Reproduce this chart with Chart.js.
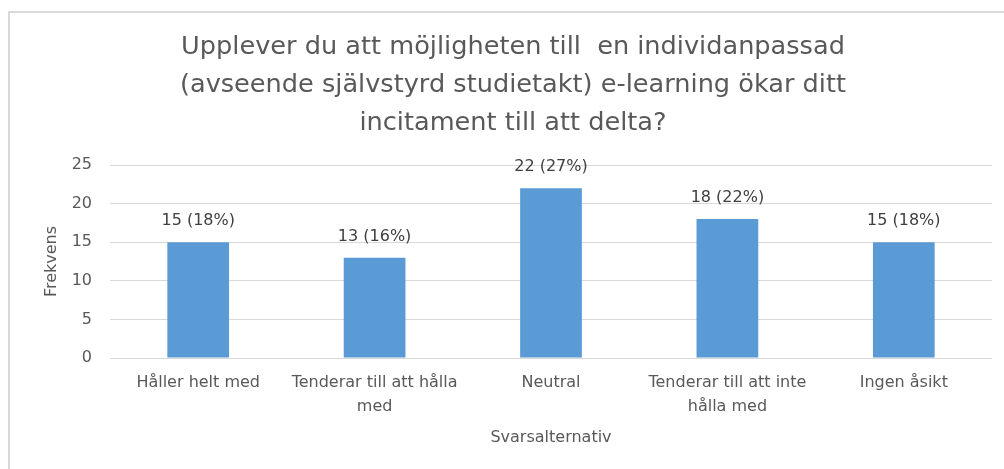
<!DOCTYPE html>
<html>
<head>
<meta charset="utf-8">
<script src="https://cdn.jsdelivr.net/npm/chart.js@4"></script>
<style>
    html, body { margin: 0; padding: 0; background: #fff; overflow: hidden; }
    #wrap { position: relative; width: 1004px; height: 469px; overflow: hidden; }
    #frame {
        position: absolute; left: 8px; top: 11px; width: 1100px; height: 600px;
        border-left: 2px solid #d9d9d9; border-top: 2px solid #d9d9d9;
    }
    #chart { position: absolute; left: 0; top: 0; }
</style>
</head>
<body>
<div id="wrap">
    <div id="frame"></div>
    <canvas id="chart" width="1004" height="469"></canvas>
</div>
<script>
const titleLines = [
    "Upplever du att möjligheten till  en individanpassad",
    "(avseende självstyrd studietakt) e-learning ökar ditt",
    "incitament till att delta?"
];
const categories = [
    "Håller helt med",
    ["Tenderar till att hålla", "med"],
    "Neutral",
    ["Tenderar till att inte", "hålla med"],
    "Ingen åsikt"
];
const counts = [15, 13, 22, 18, 15];
const percents = [18, 16, 27, 22, 18];
const yTicks = [0, 5, 10, 15, 20, 25];

Chart.defaults.font.family = "'DejaVu Sans', sans-serif";
Chart.defaults.color = "#595959";

// value + share written above each bar
const barLabels = {
    id: "barLabels",
    afterDatasetsDraw(chart) {
        const ctx = chart.ctx;
        const meta = chart.getDatasetMeta(0);
        ctx.save();
        ctx.font = "16px 'DejaVu Sans', sans-serif";
        ctx.fillStyle = "#404040";
        ctx.textAlign = "center";
        ctx.textBaseline = "middle";
        meta.data.forEach((bar, i) => {
            ctx.fillText(counts[i] + " (" + percents[i] + "%)", bar.x, bar.y - 21);
        });
        ctx.restore();
    }
};

const ctx = document.getElementById("chart");

new Chart(ctx, {
    type: "bar",
    data: {
        labels: categories,
        datasets: [
            {
                data: counts,
                backgroundColor: "#5b9bd5",
                barPercentage: 0.35,
                categoryPercentage: 1
            }
        ]
    },
    options: {
        responsive: false,
        animation: false,
        layout: {
            padding: { top: 10, right: 12, bottom: 0, left: 34 }
        },
        plugins: {
            legend: { display: false },
            tooltip: { enabled: false },
            title: {
                display: true,
                text: titleLines,
                color: "#595959",
                font: { size: 25.6, weight: "normal", lineHeight: 38 / 25.6 },
                padding: { top: 18, bottom: 23 }
            }
        },
        scales: {
            x: {
                grid: { display: false, drawTicks: false },
                border: { display: false },
                ticks: {
                    autoSkip: false,
                    maxRotation: 0,
                    padding: 13,
                    color: "#595959",
                    font: { size: 16, lineHeight: 24 / 16 }
                },
                title: {
                    display: true,
                    text: "Svarsalternativ",
                    color: "#595959",
                    font: { size: 16 },
                    padding: { top: 0, bottom: 22 }
                },
                afterFit(scale) { scale.height = 111; }
            },
            y: {
                min: 0,
                max: 25,
                afterBuildTicks(scale) {
                    scale.ticks = yTicks.map(v => ({ value: v }));
                },
                grid: { color: "#d9d9d9", drawTicks: false },
                border: { display: false },
                ticks: {
                    padding: 18,
                    color: "#595959",
                    font: { size: 16 }
                },
                title: {
                    display: true,
                    text: "Frekvens",
                    color: "#595959",
                    font: { size: 16 },
                    padding: { top: 8, bottom: 0 }
                },
                afterFit(scale) { scale.width = 76; }
            }
        }
    },
    plugins: [barLabels]
});
</script>
</body>
</html>
